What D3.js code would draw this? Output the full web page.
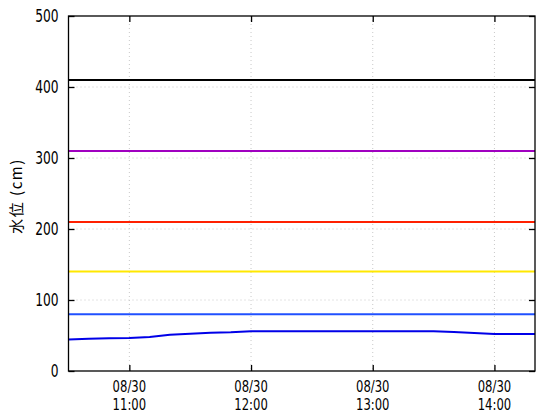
<!DOCTYPE html>
<html><head><meta charset="utf-8">
<script src="https://cdn.jsdelivr.net/npm/d3@7"></script>
<style>
body{margin:0;background:#fff;}
text{font-family:"DejaVu Sans Condensed","DejaVu Sans",sans-serif;}
</style></head><body>
<svg id="c" width="560" height="420"></svg>
<script>
const times = ["10:30","10:40","10:50","11:00","11:10","11:20","11:30","11:40","11:50","12:00","12:10","12:20","12:30","12:40","12:50","13:00","13:10","13:20","13:30","13:40","13:50","14:00","14:10","14:20"];
const levels = [44.5,45.5,46,46.5,48,51,52.5,54,54.5,56,56,56,56,56,56,56,56,56,56,55,53.5,52,52,52];
const refValues = [410,310,210,140,80];
const refColors = ["#000000","#a000c0","#ff2000","#ffe800","#2050ff"];
const yTicks = [0,100,200,300,400,500];
const xTickTimes = ["11:00","12:00","13:00","14:00"];
const dateLabel = "08/30";
const yTitle = "水位 (cm)";

const parse = t => { const [h,m]=t.split(":").map(Number); return new Date(2000,7,30,h,m); };
const svg = d3.select("#c");
const L=68.5, R=535, T=16, B=371;
const x = d3.scaleTime().domain([parse("10:30"),parse("14:20")]).range([L,R]);
const y = d3.scaleLinear().domain([0,500]).range([B,T]);

// grid
const g = svg.append("g");
g.selectAll("line.gy").data(yTicks.slice(1,-1)).join("line")
 .attr("x1",L).attr("x2",R).attr("y1",d=>y(d)).attr("y2",d=>y(d))
 .attr("stroke","#c8c8c8").attr("stroke-dasharray","1,3");
g.selectAll("line.gx").data(xTickTimes).join("line")
 .attr("x1",d=>x(parse(d))).attr("x2",d=>x(parse(d))).attr("y1",T).attr("y2",B)
 .attr("stroke","#c8c8c8").attr("stroke-dasharray","1,3");

// reference lines
svg.selectAll("line.ref").data(refValues).join("line")
 .attr("x1",L).attr("x2",R).attr("y1",d=>y(d)).attr("y2",d=>y(d))
 .attr("stroke",(d,i)=>refColors[i]).attr("stroke-width",2);

// data line
svg.append("path").datum(times.map((t,i)=>[parse(t),levels[i]]))
 .attr("d",d3.line().x(d=>x(d[0])).y(d=>y(d[1])))
 .attr("fill","none").attr("stroke","#0000e8").attr("stroke-width",2);

// frame
svg.append("rect").attr("x",L).attr("y",T).attr("width",R-L).attr("height",B-T)
 .attr("fill","none").attr("stroke","#000").attr("stroke-width",1.3);

// axes (inward ticks)
const yA = svg.append("g").attr("transform",`translate(${L},0)`).call(d3.axisLeft(y).tickValues(yTicks).tickSize(-6).tickFormat(""));
yA.select(".domain").remove();
const yR = svg.append("g").attr("transform",`translate(${R},0)`).call(d3.axisRight(y).tickValues(yTicks).tickSize(-6).tickFormat(""));
yR.select(".domain").remove();
const xa = svg.append("g").attr("transform",`translate(0,${B})`).call(d3.axisBottom(x).tickValues(xTickTimes.map(parse)).tickSize(-6).tickFormat(""));
xa.select(".domain").remove();
const xT = svg.append("g").attr("transform",`translate(0,${T})`).call(d3.axisTop(x).tickValues(xTickTimes.map(parse)).tickSize(-6).tickFormat(""));
xT.select(".domain").remove();
svg.selectAll(".tick line").attr("stroke","#000").attr("stroke-width",1.3);

const FS=17, SX=0.8;
// y labels
svg.append("g").selectAll("g").data(yTicks).join("g")
 .attr("transform",d=>`translate(58.5,${y(d)+6.3}) scale(${SX},1)`)
 .append("text").attr("text-anchor","end").attr("font-size",FS).text(d=>d);

// x labels
const XFS=15.5;
const lbl = svg.append("g");
xTickTimes.forEach(t=>{
  const xx = x(parse(t));
  lbl.append("g").attr("transform",`translate(${xx},392) scale(${SX*FS/XFS*0.95},1.06)`)
    .append("text").attr("text-anchor","middle").attr("font-size",XFS).text(dateLabel);
  lbl.append("g").attr("transform",`translate(${xx},409.5) scale(${SX*FS/XFS*0.95},1.06)`)
    .append("text").attr("text-anchor","middle").attr("font-size",XFS).text(t);
});
svg.append("text").attr("transform","translate(22,196) rotate(-90)").attr("text-anchor","middle")
 .attr("font-size",15).attr("letter-spacing",1.5).style("font-family","'Noto Sans CJK JP',sans-serif").text(yTitle);
</script></body></html>
